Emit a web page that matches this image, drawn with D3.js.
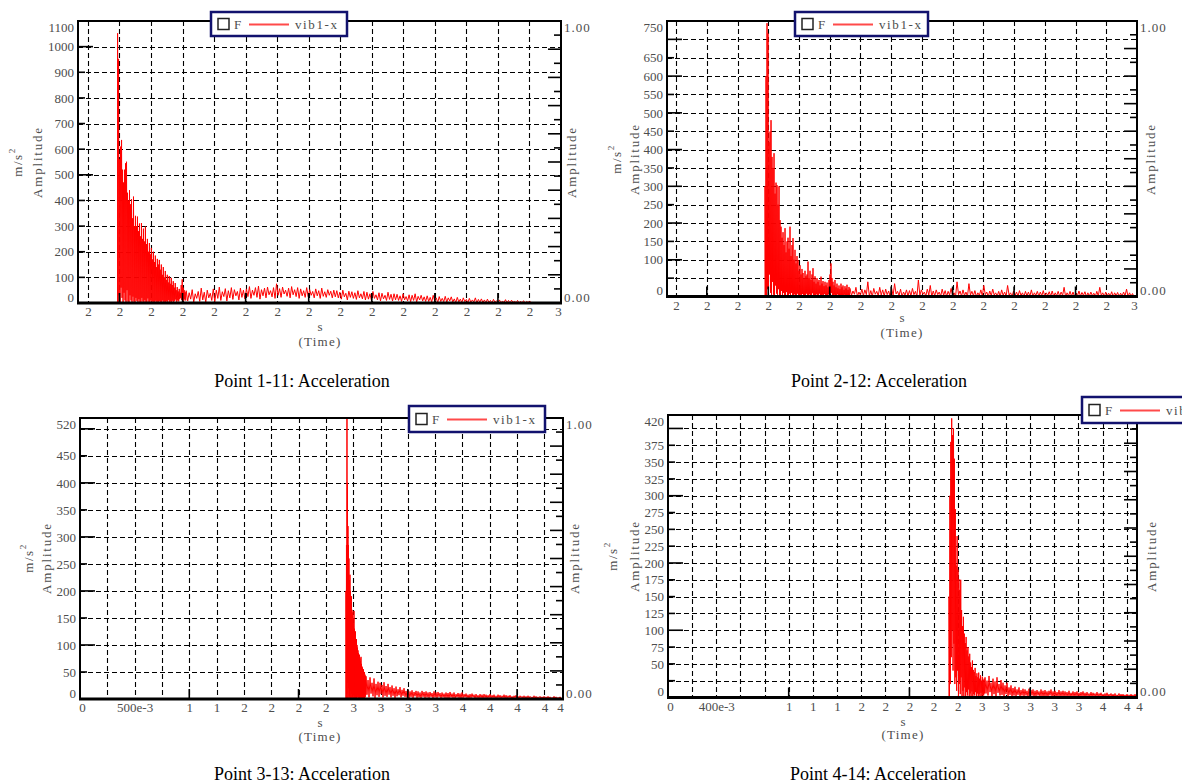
<!DOCTYPE html>
<html>
<head>
<meta charset="utf-8">
<script src="https://cdn.jsdelivr.net/npm/d3@7"></script>
<style>
  html, body { margin: 0; padding: 0; background: #fff; }
  svg { display: block; }
</style>
</head>
<body>
<svg id="chart" width="1182" height="784"></svg>
<script>
// ---------------------------------------------------------------
// Acceleration records, vib1-x channel, four measuring points.
// Each record: an impact burst followed by a decaying tail.
// Hi/Lo arrays are successive upper and lower swings (m/s^2).
// Times: [onset, end of burst, end of record] in seconds.
// ---------------------------------------------------------------

// Point 1-11
const p1Times = [2.2188, 2.2623, 2.4820];
const p1BurstHi = [1052,952,560,610,636,520,470,520,545,551,430,400,440,385,405,330,415,300,340,300,337,280,310,260,312,250,290,240,298,230,250,200,234,190,215,170,200,160,185,140,172,150,168,130,150,110,140,100,125,90,110,80,105,75,98,70,85,60,78,50,62,45,55,40,70,92,60,50,42];
const p1BurstLo = [0,30,0,60,20,0,40,10,0,50,5,0,30,10,0,25,5,0,20,8,0,15,3,0,20,5,0,12,2,0,18,4,0,10,0,6,2,0,9,0,5,1,8,0,4,10,1,5,0,7,3,12,2,6,0,9,4,8,14,3,10,6,15,20,12,18,8,14,10];
const p1TailHi = [48,40,52,36,45,58,42,50,38,55, 50,62,44,56,48,60,52,45,58,50, 55,64,50,60,66,52,58,62,48,60, 75,56,62,50,58,64,52,60,55,48, 60,52,45,55,48,58,44,52,46,50, 48,42,50,38,46,44,40,48,36,45, 42,36,45,32,40,38,30,42,34,36, 34,28,36,25,32,30,36,26,30,24, 28,22,30,20,25,18,26,20,24,16, 22,15,20,14,18,12,20,14,16,12, 15,10,14,9,12,8,13,10,11,8, 10,7,9,6,8];
const p1TailLo = [8,15,3,18,6,12,2,20,10,5, 18,10,25,8,20,14,28,12,22,16, 25,18,30,22,15,28,20,32,24,18, 30,22,35,26,20,32,25,18,28,22, 25,30,20,28,18,26,22,30,20,24, 20,15,24,12,22,18,14,20,16,12, 15,10,18,12,8,16,10,14,8,12, 10,6,12,8,5,10,4,12,8,6, 6,4,8,2,6,5,3,8,4,2, 4,2,5,1,3,4,0,3,2,1, 2,0,3,1,0,2,1,0,2,0, 0,1,0,2,0];

// Point 2-12
const p2Times = [2.2579, 2.3132, 2.4990];
const p2BurstHi = [300,600,744,716,420,449,480,380,350,390,280,310,303,250,300,208,190,160,175,140,186,120,150,160,130,190,110,140,159,100,127,90,110,99,70,85,60,75,64,50,70,55,60,95,50,70,45,60,77,40,55,35,50,40,45,30,54,35,42,28,40,30,38,25,45,60,90,50,40,30,45,25,35,22,30,20,35,25,30,18,28,22,32,18,26];
const p2BurstLo = [0,0,20,0,60,10,0,40,5,0,30,8,0,20,3,0,15,0,10,2,0,12,4,0,8,0,10,3,0,6,1,0,8,2,0,5,0,7,1,0,4,8,0,3,6,0,2,9,0,4,1,6,0,3,8,0,2,5,0,7,1,4,0,6,2,8,10,3,0,5,2,0,6,1,3,0,4,2,0,5,1,3,0,4,2];
const p2TailHi = [22,15,25,12,20,18,40,16,22,14, 25,18,20,15,22,35,14,20,12,18, 16,22,14,45,18,12,20,30,15,18, 12,20,16,14,22,10,40,15,18,12, 35,14,16,10,18,30,12,15,20,10, 14,18,12,30,10,15,12,16,10,14, 12,18,10,14,12,16,10,13,15,10, 14,12,25,10,14,12,9,15,11,13, 10,12,9,14,25,10,12,9,13,10, 11,9,12,20,10,8];
const p2TailLo = [3,6,0,4,2,5,1,0,6,2, 4,1,5,0,3,7,2,0,4,1, 2,5,0,3,6,1,4,0,2,5, 1,3,0,4,2,0,5,1,3,0, 4,2,0,3,1,5,0,2,4,1, 0,3,1,4,0,2,1,3,0,2, 1,0,3,1,2,0,3,1,0,2, 1,3,0,2,1,0,2,1,3,0, 1,2,0,1,3,0,2,1,0,2, 0,1,2,0,1,0];

// Point 3-13
const p3Times = [2.434, 2.6174, 4.411];
const p3BurstHi = [200,285,520,400,320,285,260,220,230,200,180,190,165,160,150,140,163,130,120,125,110,111,100,95,90,85,80,82,75,70,78,65,60,58,52,55,48,50,45,42];
const p3BurstLo = [0,10,0,30,0,20,5,0,15,2,0,10,4,0,8,0,6,2,0,5,1,0,8,3,0,6,2,0,5,1,4,0,6,2,0,5,3,0,4,8];
const p3TailHi = [42,35,40,30,38,28,32,30,26,31, 24,28,22,25,20,23,18,22,17,20, 15,17,14,16,13,15,14,12,15,13, 14,12,13,11,14,12,13,11,12,10, 12,11,13,10,12,9,11,10,12,9, 10,8,9,10,8,9,7,9,8,9, 8,7,9,7,8,6,8,7,6,8, 7,6,7,5,6,7,5,6,5,6, 5,6,5,4,6,5,4,5,4,5, 4,5,4,3,5,4,3,4];
const p3TailLo = [8,3,10,5,2,7,4,9,3,6, 4,8,3,6,2,5,7,3,6,4, 3,1,4,2,5,2,3,1,4,2, 3,2,4,1,3,2,4,1,3,2, 2,1,3,2,1,3,2,1,2,3, 2,1,2,3,1,2,1,2,1,2, 1,2,1,2,1,1,2,1,2,1, 1,2,1,1,2,1,1,2,1,1, 1,1,2,1,1,1,2,1,1,1, 1,1,0,1,1,0,1,1];

// Point 4-14
const p4Times = [2.3277, 2.626, 3.885];
const p4BurstHi = [150,300,380,415,390,400,355,280,196,240,190,176,160,175,130,106,120,95,81,90,70,75,61,65,52,45,55,41,38,44,32,36,30,37,28,33,25,31,26,28];
const p4BurstLo = [0,20,60,100,40,80,20,30,10,40,0,20,5,30,0,10,2,15,0,8,3,12,0,6,2,9,0,5,3,8,1,6,0,5,2,7,1,4,3,6];
const p4TailHi = [30,25,32,22,28,24,30,20,26,22, 18,22,15,18,14,16,12,15,11,13, 12,10,13,11,12,10,11,9,12,10, 11,9,10,12,9,10,8,11,9,10, 9,8,10,7,9,8,9,7,8,9, 7,8,6,8,7,6,8,6,7,5, 6,7,5,6,5,6,4,6,5,5, 4,5,4,5,4,5];
const p4TailLo = [6,3,8,2,5,1,7,3,4,2, 5,2,4,1,3,2,4,1,3,2, 3,1,2,3,1,2,3,1,2,1, 2,1,3,1,2,1,2,1,2,1, 2,1,1,2,1,2,1,1,2,1, 1,2,1,1,2,1,1,2,1,1, 1,1,2,1,1,1,2,1,1,1, 1,0,1,1,0,1];

// Axis ticks and labels
const p12XTicks = [2.20,2.22,2.24,2.26,2.28,2.30,2.32,2.34,2.36,2.38,2.40,2.42,2.44,2.46,2.48,2.50];
const p12XLabels = ["2","2","2","2","2","2","2","2","2","2","2","2","2","2","2","3"];
const p12XMajor = [2.22,2.26,2.30,2.34,2.38,2.42,2.46];
const p3XTicks = [0,0.25,0.5,0.75,1,1.25,1.5,1.75,2,2.25,2.5,2.75,3,3.25,3.5,3.75,4,4.25,4.42];
const p3XLabels = ["0","","500e-3","","1","1","2","2","2","2","3","3","3","3","4","4","4","4","4"];
const p3XMajor = [1,2,3,4];
const p4XTicks = [0,0.2,0.4,0.6,0.8,1,1.2,1.4,1.6,1.8,2,2.2,2.4,2.6,2.8,3,3.2,3.4,3.6,3.8,3.885];
const p4XLabels = ["0","","400e-3","","","1","1","1","2","2","2","2","2","3","3","3","3","3","4","4","4"];
const p4XMajor = [1,2,3];

const p1YTicks = [0,100,200,300,400,500,600,700,800,900,1000,1100];
const p1YLabels = ["0","100","200","300","400","500","600","700","800","900","1000","1100"];
const p2YTicks = [0,50,100,150,200,250,300,350,400,450,500,550,600,650,700,750];
const p2YLabels = ["0","","100","150","200","250","300","350","400","450","500","550","600","650","","750"];
const p3YTicks = [0,50,100,150,200,250,300,350,400,450,500,520];
const p3YLabels = ["0","50","100","150","200","250","300","350","400","450","","520"];
const p4YTicks = [0,25,50,75,100,125,150,175,200,225,250,275,300,325,350,375,400,420];
const p4YLabels = ["0","","50","75","100","125","150","175","200","225","250","275","300","325","350","375","","420"];

const titles = ["Point 1-11: Acceleration","Point 2-12: Acceleration","Point 3-13: Acceleration","Point 4-14: Acceleration"];

// ---------------------------------------------------------------
// Panel setup: data references plus page layout
// ---------------------------------------------------------------
const panels = [
  { id: 1, times: p1Times, burst: [p1BurstHi, p1BurstLo], tail: [p1TailHi, p1TailLo],
    xDomain: [2.1937, 2.50], xTicks: p12XTicks, xLabels: p12XLabels, xMajor: p12XMajor,
    yMax: 1100, yTicks: p1YTicks, yLabels: p1YLabels, yMajor: 500, title: titles[0],
    L: { left: 78, right: 561, top: 21, bottom: 303, legend: [211, 12, 136, 24],
         titleX: 302, titleY: 387, unitX: 17, ampX: 37, ampY: 162, rAmpX: 571,
         sX: 320, sY: 331, timeY: 346, tickY: 4, endDx: -3, oneLabel: true } },
  { id: 2, times: p2Times, burst: [p2BurstHi, p2BurstLo], tail: [p2TailHi, p2TailLo],
    xDomain: [2.1941, 2.50], xTicks: p12XTicks, xLabels: p12XLabels, xMajor: p12XMajor,
    yMax: 750, yTicks: p2YTicks, yLabels: p2YLabels, yMajor: 100, title: titles[1],
    L: { left: 667, right: 1137, top: 21, bottom: 296.5, legend: [795, 12, 133, 24],
         titleX: 879, titleY: 387, unitX: 616, ampX: 634, ampY: 159, rAmpX: 1150,
         sX: 902, sY: 322, timeY: 337, tickY: 4, endDx: -3, oneLabel: true } },
  { id: 3, times: p3Times, burst: [p3BurstHi, p3BurstLo], tail: [p3TailHi, p3TailLo],
    xDomain: [0, 4.42], xTicks: p3XTicks, xLabels: p3XLabels, xMajor: p3XMajor,
    yMax: 520, yTicks: p3YTicks, yLabels: p3YLabels, yMajor: 100, title: titles[2],
    L: { left: 80, right: 563, top: 418, bottom: 699, legend: [409, 406, 136, 26],
         titleX: 302, titleY: 780, unitX: 28, ampX: 46, ampY: 558, rAmpX: 574,
         sX: 320, sY: 727, timeY: 741, tickY: 4, endDx: -3, oneLabel: true } },
  { id: 4, times: p4Times, burst: [p4BurstHi, p4BurstLo], tail: [p4TailHi, p4TailLo],
    xDomain: [0, 3.885], xTicks: p4XTicks, xLabels: p4XLabels, xMajor: p4XMajor,
    yMax: 420, yTicks: p4YTicks, yLabels: p4YLabels, yMajor: 100, title: titles[3],
    L: { left: 668, right: 1137, top: 415, bottom: 697.5, legend: [1082, 397, 136, 26],
         titleX: 878, titleY: 780, unitX: 612, ampX: 634, ampY: 556, rAmpX: 1151,
         sX: 903, sY: 726, timeY: 739, tickY: 4, endDx: 2, oneLabel: false } }
];

const SERIF = '"Liberation Serif", "Times New Roman", serif';
const GRAY = '#4d4d4d';
const svg = d3.select('#chart');
const defs = svg.append('defs');

// Interleave upper and lower swings of a segment on an even time grid
function segmentPoints(t0, t1, hi, lo) {
  const n = Math.min(hi.length, lo.length);
  const dt = (t1 - t0) / n;
  const out = [];
  for (let i = 0; i < n; i++) {
    out.push([t0 + i * dt, hi[i]]);
    out.push([t0 + (i + 0.5) * dt, lo[i]]);
  }
  return out;
}

function styleText(sel, size) {
  return sel.attr('font-family', SERIF).attr('font-size', size).attr('fill', GRAY);
}

function drawPanel(P) {
  const L = P.L;
  const x = d3.scaleLinear().domain(P.xDomain).range([L.left, L.right]);
  const y = d3.scaleLinear().domain([0, P.yMax]).range([L.bottom, L.top]);
  const yR = d3.scaleLinear().domain([0, 1]).range([L.bottom, L.top]);
  const g = svg.append('g');
  const eps = 1e-6;

  defs.append('clipPath').attr('id', 'plot' + P.id)
    .append('rect').attr('x', L.left).attr('y', L.top)
    .attr('width', L.right - L.left).attr('height', L.bottom - L.top);

  // dashed grid
  const grid = g.append('g').attr('stroke', '#000').attr('stroke-width', 1.1)
    .attr('stroke-dasharray', '5,3').attr('fill', 'none');
  grid.selectAll('line.h')
    .data(P.yTicks.filter(v => v > 0 && v < P.yMax - eps))
    .join('line').attr('class', 'h')
    .attr('x1', L.left).attr('x2', L.right)
    .attr('y1', d => Math.round(y(d)) + 0.5).attr('y2', d => Math.round(y(d)) + 0.5);
  grid.selectAll('line.v')
    .data(P.xTicks.filter(v => v > P.xDomain[0] + eps && v < P.xDomain[1] - eps))
    .join('line').attr('class', 'v')
    .attr('y1', L.top).attr('y2', L.bottom)
    .attr('x1', d => Math.round(x(d)) + 0.5).attr('x2', d => Math.round(x(d)) + 0.5);

  // signal
  const [tOn, tMid, tEnd] = P.times;
  const pts = [[tOn, 0]]
    .concat(segmentPoints(tOn, tMid, P.burst[0], P.burst[1]))
    .concat(segmentPoints(tMid, tEnd, P.tail[0], P.tail[1]));
  g.append('path').datum(pts)
    .attr('clip-path', `url(#plot${P.id})`)
    .attr('fill', 'none').attr('stroke', '#ff0000').attr('stroke-width', 1)
    .attr('d', d3.line().x(d => x(d[0])).y(d => y(d[1])));

  // inner tick marks
  const ticks = g.append('g').attr('stroke', '#000').attr('stroke-width', 1.6);
  ticks.selectAll('line.yl')
    .data(P.yTicks.filter(v => v > 0 && v < P.yMax - eps))
    .join('line').attr('class', 'yl')
    .attr('x1', L.left).attr('x2', d => L.left + (d % P.yMajor === 0 ? 15 : 7))
    .attr('y1', d => y(d)).attr('y2', d => y(d));
  ticks.selectAll('line.yr')
    .data(d3.range(1, 20).map(k => k * 0.05))
    .join('line').attr('class', 'yr')
    .attr('x1', (d, i) => L.right - ((i + 1) % 2 === 0 ? 13 : 7)).attr('x2', L.right)
    .attr('y1', d => yR(d)).attr('y2', d => yR(d));
  ticks.selectAll('line.xm')
    .data(P.xMajor)
    .join('line').attr('class', 'xm')
    .attr('x1', d => x(d)).attr('x2', d => x(d))
    .attr('y1', L.bottom).attr('y2', L.bottom - 10);

  // frame
  g.append('rect').attr('x', L.left).attr('y', L.top)
    .attr('width', L.right - L.left).attr('height', L.bottom - L.top)
    .attr('fill', 'none').attr('stroke', '#000').attr('stroke-width', 2);
  g.append('line').attr('x1', L.left - 1).attr('x2', L.right + 1)
    .attr('y1', L.bottom).attr('y2', L.bottom)
    .attr('stroke', '#000').attr('stroke-width', 3);

  // left axis labels
  const ax = g.append('g').attr('transform', `translate(${L.left},0)`)
    .call(d3.axisLeft(y).tickValues(P.yTicks).tickSize(0).tickPadding(4)
      .tickFormat((d, i) => P.yLabels[i]));
  ax.select('.domain').remove();
  styleText(ax.selectAll('text'), 13)
    .attr('dy', d => d === 0 ? '-0.15em' : (d === P.yMax ? '0.8em' : '0.32em'));

  // bottom axis labels
  const bx = g.append('g').attr('transform', `translate(0,${L.bottom})`)
    .call(d3.axisBottom(x).tickValues(P.xTicks).tickSize(0).tickPadding(L.tickY)
      .tickFormat((d, i) => P.xLabels[i]));
  bx.select('.domain').remove();
  styleText(bx.selectAll('text'), 13)
    .attr('dx', d => Math.abs(d - P.xDomain[1]) < eps ? L.endDx : (Math.abs(d - P.xDomain[0]) < eps ? 2 : 0));

  // right axis labels
  const rx = g.append('g').attr('transform', `translate(${L.right},0)`)
    .call(d3.axisRight(yR).tickValues(L.oneLabel ? [0, 1] : [0]).tickSize(0).tickPadding(3)
      .tickFormat(d3.format('.2f')));
  rx.select('.domain').remove();
  styleText(rx.selectAll('text'), 13)
    .attr('letter-spacing', 1)
    .attr('dy', d => d === 0 ? '-0.15em' : '0.8em');

  // axis titles
  const unit = styleText(g.append('text'), 13)
    .attr('transform', `translate(${L.unitX},${L.ampY}) rotate(-90)`)
    .attr('text-anchor', 'middle').attr('dominant-baseline', 'central')
    .attr('letter-spacing', 1.5);
  unit.append('tspan').text('m/s');
  unit.append('tspan').attr('font-size', 9).attr('dy', '-0.55em').text('2');
  styleText(g.append('text'), 13)
    .attr('transform', `translate(${L.ampX},${L.ampY}) rotate(-90)`)
    .attr('text-anchor', 'middle').attr('dominant-baseline', 'central')
    .attr('letter-spacing', 1.8)
    .text('Amplitude');
  styleText(g.append('text'), 13)
    .attr('transform', `translate(${L.rAmpX},${L.ampY}) rotate(-90)`)
    .attr('text-anchor', 'middle').attr('dominant-baseline', 'central')
    .attr('letter-spacing', 1.8)
    .text('Amplitude');
  styleText(g.append('text'), 13).attr('x', L.sX).attr('y', L.sY)
    .attr('text-anchor', 'middle').text('s');
  styleText(g.append('text'), 13).attr('x', L.sX).attr('y', L.timeY)
    .attr('text-anchor', 'middle').attr('letter-spacing', 1.2).text('(Time)');

  // legend
  const [lx, ly, lw, lh] = L.legend;
  const lg = g.append('g');
  lg.append('rect').attr('x', lx).attr('y', ly).attr('width', lw).attr('height', lh)
    .attr('fill', '#fff').attr('stroke', '#12126e').attr('stroke-width', 2.5);
  lg.append('rect').attr('x', lx + 7).attr('y', ly + lh / 2 - 5.5).attr('width', 11).attr('height', 11)
    .attr('fill', '#fff').attr('stroke', '#222').attr('stroke-width', 1.5);
  styleText(lg.append('text'), 13).attr('x', lx + 23).attr('y', ly + lh / 2 + 4.5).text('F');
  lg.append('line').attr('x1', lx + 38).attr('x2', lx + 78)
    .attr('y1', ly + lh / 2 + 0.5).attr('y2', ly + lh / 2 + 0.5)
    .attr('stroke', '#ff4a4a').attr('stroke-width', 2);
  styleText(lg.append('text'), 13).attr('x', lx + 84).attr('y', ly + lh / 2 + 4.5)
    .attr('letter-spacing', 1.6).text('vib1-x');

  // panel title
  svg.append('text').attr('x', L.titleX).attr('y', L.titleY).attr('text-anchor', 'middle')
    .attr('font-family', SERIF).attr('font-size', 18).attr('fill', '#000').text(P.title);
}

panels.forEach(drawPanel);
</script>
</body>
</html>
